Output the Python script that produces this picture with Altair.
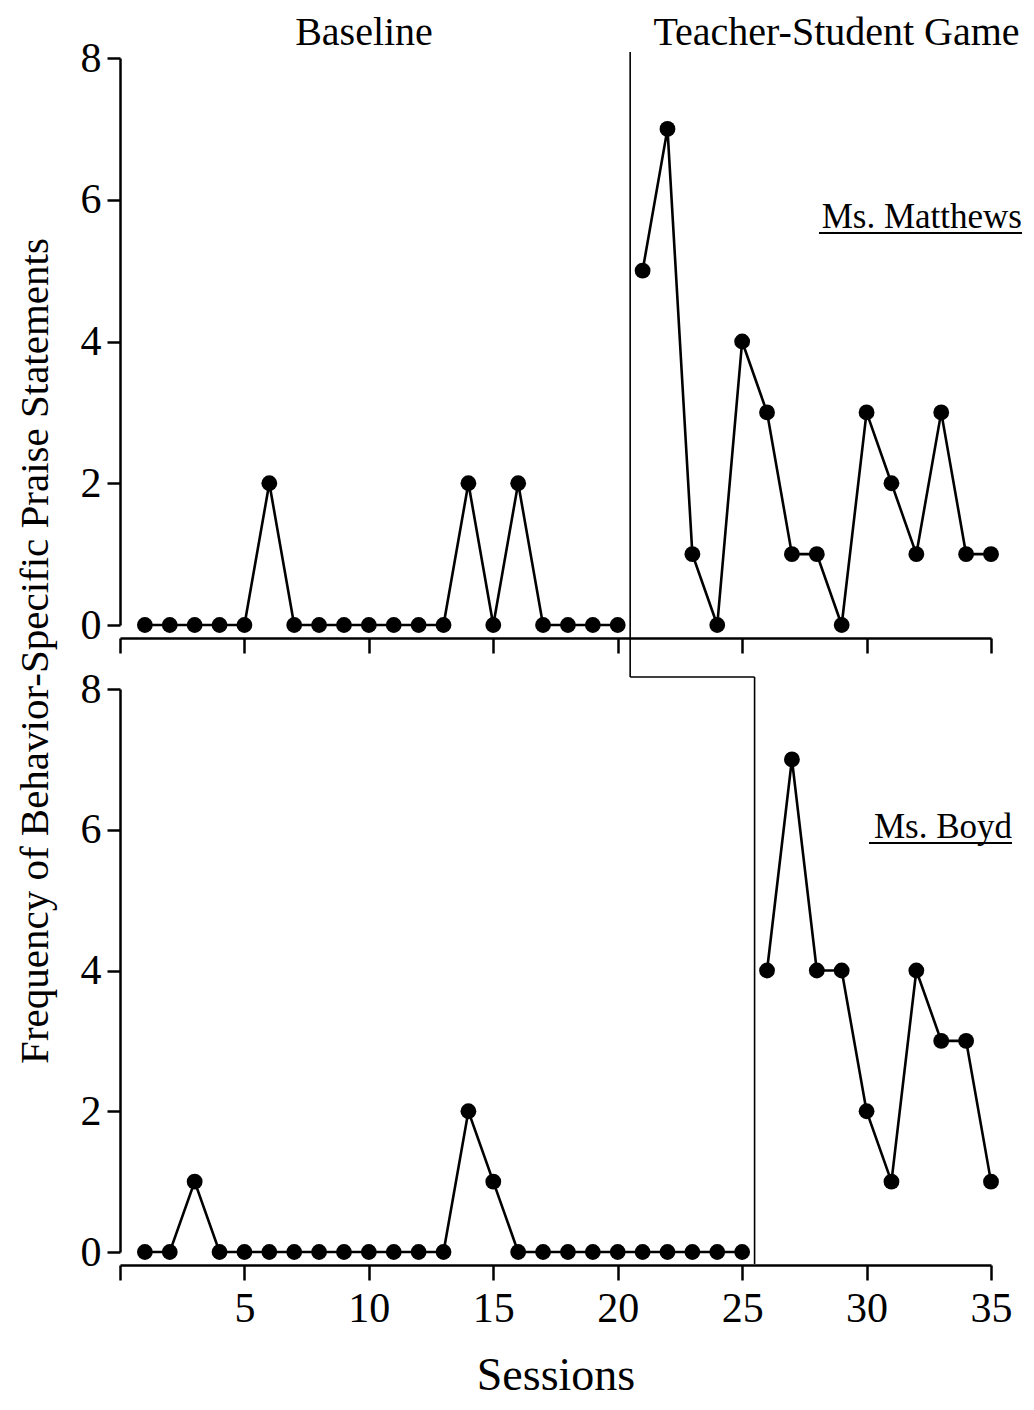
import altair as alt
import pandas as pd

# ---- data ----
sessions = list(range(1, 36))
matthews = [0, 0, 0, 0, 0, 2, 0, 0, 0, 0, 0, 0, 0, 2, 0, 2, 0, 0, 0, 0,
            5, 7, 1, 0, 4, 3, 1, 1, 0, 3, 2, 1, 3, 1, 1]
boyd = [0, 0, 1, 0, 0, 0, 0, 0, 0, 0, 0, 0, 0, 2, 1, 0, 0, 0, 0, 0, 0, 0, 0, 0, 0,
        4, 7, 4, 4, 2, 1, 4, 3, 3, 1]
matthews_baseline_end = 20
boyd_baseline_end = 25
x_ticks = [0, 5, 10, 15, 20, 25, 30, 35]
y_ticks = [0, 2, 4, 6, 8]
phase_labels = ["Baseline", "Teacher-Student Game"]
y_title = "Frequency of Behavior-Specific Praise Statements"
x_title = "Sessions"
names = ["Ms.  Matthews", "Ms.  Boyd"]

FONT = "Liberation Serif"
W = 871
H_TOP = 567
H_BOT = 563


def make_df(values, end):
    return pd.DataFrame({
        "session": sessions,
        "value": values,
        "phase": ["baseline" if s <= end else "treatment" for s in sessions],
    })


def base_enc(bottom):
    x = alt.X(
        "session:Q",
        scale=alt.Scale(domain=[0, 35], nice=False, zero=False),
        axis=alt.Axis(
            values=x_ticks,
            labels=bottom,
            labelExpr="datum.value == 0 ? '' : datum.label",
            title=x_title if bottom else None,
            titleFont=FONT, titleFontSize=46, titleFontWeight="normal",
            titleColor="black", titlePadding=24,
            labelFont=FONT, labelFontSize=42, labelColor="black", labelPadding=8,
            tickSize=15, tickWidth=2.5, tickColor="black",
            domainWidth=2.5, domainColor="black",
            offset=13, grid=False, labelFlush=False, labelOverlap=False,
        ),
    )
    y = alt.Y(
        "value:Q",
        scale=alt.Scale(domain=[0, 8], nice=False),
        axis=alt.Axis(
            values=y_ticks, title=None,
            labelFont=FONT, labelFontSize=42, labelColor="black", labelPadding=6,
            tickSize=13, tickWidth=2.5, tickColor="black",
            domainWidth=2.5, domainColor="black", grid=False,
        ),
    )
    return x, y


def marks(values, end, bottom):
    df = make_df(values, end)
    x, y = base_enc(bottom)
    line = alt.Chart(df).mark_line(color="black", strokeWidth=2.6).encode(
        x=x, y=y, detail="phase:N")
    pts = alt.Chart(df).mark_circle(color="black", size=250, opacity=1).encode(
        x=x, y=y)
    return line, pts


XS = alt.Scale(domain=[0, 35], nice=False)

# ---------- top panel ----------
line_t, pts_t = marks(matthews, matthews_baseline_end, False)
phase_t = pd.DataFrame({"xp": [matthews_baseline_end + 0.5],
                        "xq": [boyd_baseline_end + 0.5]})
vrule_t = alt.Chart(phase_t).mark_rule(color="black", strokeWidth=1.6).encode(
    x=alt.X("xp:Q", scale=XS), y=alt.value(-6), y2=alt.value(619))
hrule_t = alt.Chart(phase_t).mark_rule(color="black", strokeWidth=1.6).encode(
    x=alt.X("xp:Q", scale=XS), x2="xq:Q", y=alt.value(619))

titles_df = pd.DataFrame({"label": phase_labels, "px": [244, 716.5]})
titles = alt.Chart(titles_df).mark_text(
    font=FONT, fontSize=40, color="black", align="center", baseline="alphabetic"
).encode(text="label:N", x=alt.X("px:Q", scale=None), y=alt.value(-13))

name_t = alt.Chart(pd.DataFrame({"n": [names[0]]})).mark_text(
    font=FONT, fontSize=35, color="black", align="right", baseline="alphabetic"
).encode(text="n:N", x=alt.value(902), y=alt.value(170))
under_t = alt.Chart(pd.DataFrame({"n": [names[0]]})).mark_rule(
    color="black", strokeWidth=2).encode(
    x=alt.value(699), x2=alt.value(902), y=alt.value(175))

ytitle = alt.Chart(pd.DataFrame({"t": [y_title]})).mark_text(
    font=FONT, fontSize=41, color="black", align="center",
    baseline="alphabetic", angle=270
).encode(text="t:N", x=alt.value(-72), y=alt.value(593))

top = alt.layer(vrule_t, hrule_t, line_t, pts_t, titles, name_t, under_t,
                ytitle).properties(width=W, height=H_TOP)

# ---------- bottom panel ----------
line_b, pts_b = marks(boyd, boyd_baseline_end, True)
phase_b = pd.DataFrame({"xq": [boyd_baseline_end + 0.5]})
vrule_b = alt.Chart(phase_b).mark_rule(color="black", strokeWidth=1.6).encode(
    x=alt.X("xq:Q", scale=XS), y=alt.value(-12), y2=alt.value(575))
name_b = alt.Chart(pd.DataFrame({"n": [names[1]]})).mark_text(
    font=FONT, fontSize=35, color="black", align="right", baseline="alphabetic"
).encode(text="n:N", x=alt.value(892), y=alt.value(149))
under_b = alt.Chart(pd.DataFrame({"n": [names[1]]})).mark_rule(
    color="black", strokeWidth=2).encode(
    x=alt.value(749), x2=alt.value(892), y=alt.value(154))

bottom = alt.layer(vrule_b, line_b, pts_b, name_b, under_b).properties(
    width=W, height=H_BOT)

chart = alt.vconcat(top, bottom, spacing=64, bounds="flush").properties(
    padding={"left": 6, "top": 5, "right": 0, "bottom": 0}
).configure(background="white").configure_view(stroke=None)

chart.save("out.html", embed_options={"renderer": "svg", "actions": False})
